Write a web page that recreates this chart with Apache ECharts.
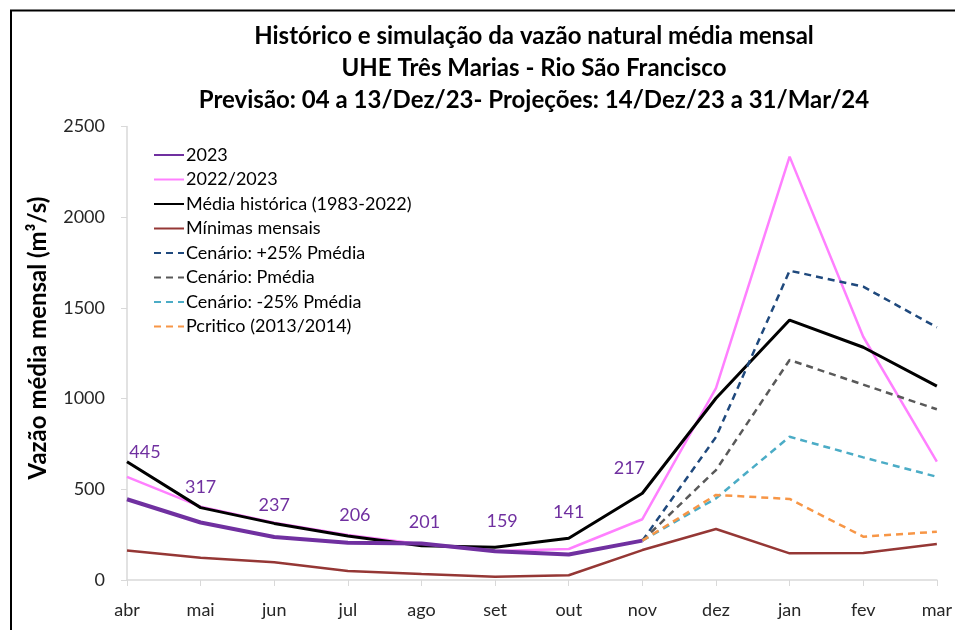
<!DOCTYPE html>
<html>
<head>
    <meta charset="utf-8">
    <script src="https://cdn.jsdelivr.net/npm/echarts@6/dist/echarts.min.js"></script>
</head>
<body style="margin:0">
    <div id="main" style="width: 955px;height:630px;"></div>
    <script type="text/javascript">
        var meses = ['abr', 'mai', 'jun', 'jul', 'ago', 'set', 'out', 'nov', 'dez', 'jan', 'fev', 'mar'];

        var v2023 = [445, 317, 237, 206, 201, 159, 141, 217];
        var v2022_2023 = [569, 404, 316, 248, 197, 160, 171, 335, 1058, 2334, 1341, 652];
        var mediaHist = [652, 399, 312, 243, 189, 180, 230, 478, 1002, 1433, 1283, 1069];
        var minimas = [162, 123, 98, 50, 33, 18, 26, 165, 281, 147, 149, 198];
        var cen25mais = [null, null, null, null, null, null, null, 217, 788, 1705, 1617, 1393];
        var cenMedia = [null, null, null, null, null, null, null, 217, 606, 1213, 1077, 941];
        var cen25menos = [null, null, null, null, null, null, null, 217, 450, 790, 676, 569];
        var pcritico = [null, null, null, null, null, null, null, 217, 469, 447, 239, 266];

        // deslocamento dos rótulos de 2023 (x, y)
        var rotuloDesloc = [[18, -33], [0, -21], [0, -18], [7, -13], [3, -7], [7, -16], [0, -28], [-13, -58]];

        var fonte = 'Lato, "Open Sans", sans-serif';
        var myChart = echarts.init(document.getElementById('main'));

        var dados2023 = v2023.map(function (v, i) {
            return {
                value: v,
                label: { offset: rotuloDesloc[i] }
            };
        });

        function linha(nome, dados, cor, largura, tracejado) {
            return {
                name: nome,
                type: 'line',
                data: dados,
                symbol: 'none',
                connectNulls: false,
                lineStyle: { color: cor, width: largura, type: tracejado ? [7, 5] : 'solid' },
                itemStyle: { color: cor }
            };
        }

        var s2023 = linha('2023', dados2023, '#7030A0', 4, false);
        s2023.z = 5;
        s2023.symbol = 'circle';
        s2023.symbolSize = 0.01;
        s2023.showSymbol = true;
        s2023.label = {
            show: true,
            position: 'top',
            distance: 5,
            color: '#7030A0',
            fontFamily: fonte,
            fontSize: 18
        };

        myChart.setOption({
            animation: false,
            title: {
                text: 'Histórico e simulação da vazão natural média mensal\nUHE Três Marias - Rio São Francisco\nPrevisão: 04 a 13/Dez/23- Projeções: 14/Dez/23 a 31/Mar/24',
                left: 529,
                textAlign: 'center',
                top: 15,
                textStyle: {
                    fontFamily: fonte,
                    fontWeight: 'bold',
                    fontSize: 24,
                    lineHeight: 32,
                    color: '#000'
                }
            },
            legend: {
                orient: 'vertical',
                left: 148,
                top: 140,
                itemWidth: 30,
                itemHeight: 14,
                itemGap: 4.5,
                itemStyle: { opacity: 0 },
                textStyle: { fontFamily: fonte, fontSize: 18, lineHeight: 20, color: '#000', padding: [0, 0, 0, -3] },
                data: ['2023', '2022/2023', 'Média histórica (1983-2022)', 'Mínimas mensais',
                    'Cenário: +25% Pmédia', 'Cenário: Pmédia', 'Cenário: -25% Pmédia', 'Pcritico (2013/2014)']
            },
            grid: {
                left: 127,
                right: 13,
                top: 126.5,
                bottom: 50
            },
            graphic: [
                {
                    type: 'rect',
                    shape: { x: 11, y: 10.5, width: 1000, height: 700 },
                    style: { fill: 'none', stroke: '#000', lineWidth: 2 },
                    silent: true
                },
                {
                    type: 'text',
                    x: 38,
                    y: 338,
                    rotation: Math.PI / 2,
                    style: {
                        text: 'Vazão média mensal (m³/s)',
                        fontFamily: fonte,
                        fontWeight: 'bold',
                        fontSize: 24,
                        fill: '#000',
                        align: 'center',
                        verticalAlign: 'middle'
                    }
                }
            ],
            xAxis: {
                type: 'category',
                boundaryGap: false,
                data: meses,
                axisLine: { lineStyle: { color: '#d9d9d9', width: 1.5 } },
                axisTick: { show: true, length: 6, lineStyle: { color: '#d9d9d9' } },
                axisLabel: { color: '#262626', fontFamily: fonte, fontSize: 18, margin: 21 },
                splitLine: { show: false }
            },
            yAxis: {
                type: 'value',
                min: 0,
                max: 2500,
                interval: 500,
                axisLine: { show: true, lineStyle: { color: '#d9d9d9', width: 1.5 } },
                axisTick: { show: true, length: 6, lineStyle: { color: '#d9d9d9' } },
                axisLabel: {
                    color: '#262626', fontFamily: fonte, fontSize: 18, margin: 22,
                    formatter: function (v) { return String(v); }
                },
                splitLine: { show: false }
            },
            series: [
                s2023,
                linha('2022/2023', v2022_2023, '#FF80FF', 2.5, false),
                linha('Média histórica (1983-2022)', mediaHist, '#000000', 3, false),
                linha('Mínimas mensais', minimas, '#953735', 2.5, false),
                linha('Cenário: +25% Pmédia', cen25mais, '#1F497D', 2.5, true),
                linha('Cenário: Pmédia', cenMedia, '#595959', 2.5, true),
                linha('Cenário: -25% Pmédia', cen25menos, '#4BACC6', 2.5, true),
                linha('Pcritico (2013/2014)', pcritico, '#F79646', 2.5, true)
            ]
        });
    </script>
</body>
</html>
